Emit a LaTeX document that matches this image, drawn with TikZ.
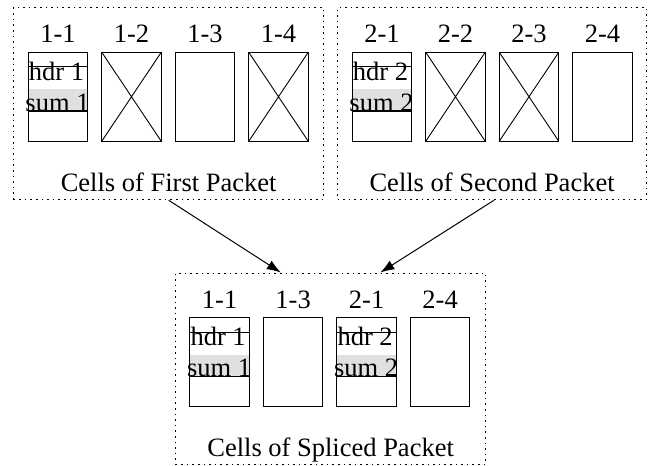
\documentclass[tikz,border=0pt]{standalone}
\usepackage{fontspec}
\setmainfont{Liberation Serif}
\usetikzlibrary{arrows.meta,calc,backgrounds}
\tikzset{
  lbl/.style={anchor=base, inner sep=0pt, font=\fontsize{26.5}{31}\selectfont},
  cellbox/.style={draw, line width=1.1pt, minimum width=59.5pt, minimum height=89pt,
    inner sep=0pt, anchor=north west},
  crossed/.style={cellbox, path picture={
      \draw[line width=0.9pt]
        (path picture bounding box.north west) -- (path picture bounding box.south east)
        (path picture bounding box.north east) -- (path picture bounding box.south west);}},
  group/.style={draw, line width=1.2pt, dash pattern=on 1.6pt off 4pt,
    minimum width=310pt, minimum height=192pt, inner sep=0pt, anchor=north west},
  link/.style={-{Latex[length=14pt,width=10pt]}, line width=1pt},
  sumfill/.style={fill=black!12},
  rule/.style={line width=1.1pt}
}
% header cell decoration: grey checksum band, two rules and the two labels
\newcommand{\hdrcell}[2]{%
  \begin{scope}[on background layer]
    \fill[sumfill] ($(#1.north west)+(0,37.3)$) rectangle ($(#1.north east)+(0,59.3)$);
  \end{scope}
  \draw[rule] ($(#1.north west)+(0,15)$) -- ($(#1.north east)+(0,15)$);
  \draw[rule] ($(#1.north west)+(0,59.3)$) -- ($(#1.north east)+(0,59.3)$);
  \node[lbl] (#1hdr) at ($(#1.north)+(-1.5,28.3)$) {hdr #2};
  \node[lbl] (#1sum) at ($(#1.north)+(-0.5,59.3)$) {sum #2};
}
% number label above a cell
\newcommand{\celltag}[2]{\node[lbl] (#1tag) at ($(#1.north)+(0,-9)$) {#2};}
\begin{document}
\begin{tikzpicture}[x=1pt,y=-1pt]
\useasboundingbox (0,0) rectangle (649,466);

% first packet
\node[group] (g1) at (13,7) {};
\node[cellbox] (a1) at (27.7,51.7) {};
\node[crossed] (a2) at (101.2,51.7) {};
\node[cellbox] (a3) at (174.7,51.7) {};
\node[crossed] (a4) at (248.2,51.7) {};
\hdrcell{a1}{1}
\celltag{a1}{1-1}
\celltag{a2}{1-2}
\celltag{a3}{1-3}
\celltag{a4}{1-4}
\node[lbl] (g1cap) at ($(g1.south)+(0,-8.5)$) {Cells of First Packet};

% second packet
\node[group, minimum width=309pt] (g2) at (337,7) {};
\node[cellbox] (b1) at (351.7,51.7) {};
\node[crossed] (b2) at (425.2,51.7) {};
\node[crossed] (b3) at (498.7,51.7) {};
\node[cellbox] (b4) at (572.2,51.7) {};
\hdrcell{b1}{2}
\celltag{b1}{2-1}
\celltag{b2}{2-2}
\celltag{b3}{2-3}
\celltag{b4}{2-4}
\node[lbl] (g2cap) at ($(g2.south)+(0,-8.5)$) {Cells of Second Packet};

% spliced packet
\node[group, minimum height=191.5pt] (g3) at (175,272.5) {};
\node[cellbox] (s1) at (189.3,317.3) {};
\node[cellbox] (s2) at (262.8,317.3) {};
\node[cellbox] (s3) at (336.3,317.3) {};
\node[cellbox] (s4) at (409.8,317.3) {};
\hdrcell{s1}{1}
\hdrcell{s3}{2}
\celltag{s1}{1-1}
\celltag{s2}{1-3}
\celltag{s3}{2-1}
\celltag{s4}{2-4}
\node[lbl] (g3cap) at ($(g3.south)+(0,-9)$) {Cells of Spliced Packet};

% splicing arrows
\draw[link] (g1.south) -- ($(g3.north west)!0.34!(g3.north east)$);
\draw[link] ($(g2.south)+(2,0)$) -- ($(g3.north west)!0.66!(g3.north east)$);
\end{tikzpicture}
\end{document}
